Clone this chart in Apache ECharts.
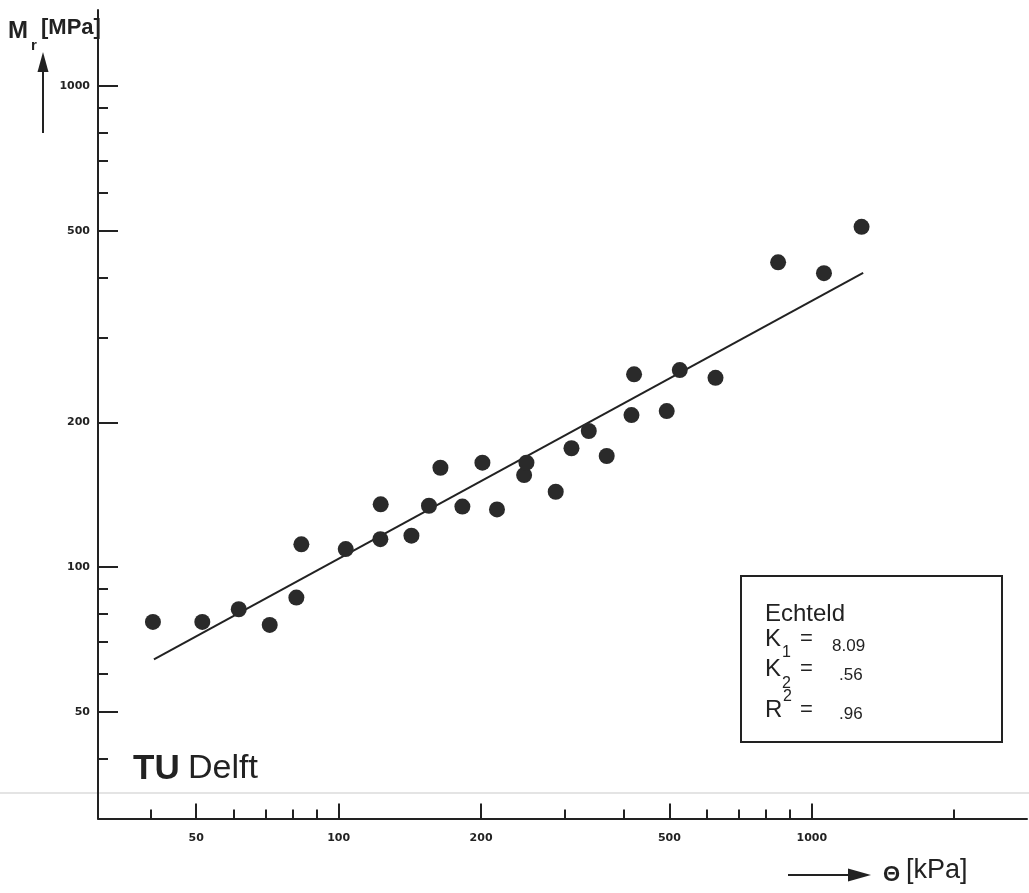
<!DOCTYPE html>
<html>
<head>
<meta charset="utf-8">
<script src="https://cdn.jsdelivr.net/npm/echarts@6/dist/echarts.min.js"></script>
<style>
  html, body { margin: 0; padding: 0; background: #fff; }
  #chart { width: 1029px; height: 893px; }
</style>
</head>
<body>
<div id="chart"></div>
<script>
// meetpunten Echteld: theta [kPa] en Mr [MPa]
var thetaVals = [40.5, 51.5, 61.5, 71.5, 81.4, 83.4, 103.5, 122.5, 122.7, 142.5,
                 155.2, 164.1, 182.6, 201.3, 216.1, 246.6, 249.4, 287.6, 310.5, 337.8,
                 368.6, 415.8, 421.1, 493.6, 526.0, 625.9, 848.8, 1061, 1274];
var mrVals = [76.9, 76.9, 81.7, 75.8, 86.4, 111.5, 109.0, 114.3, 135.0, 116.2,
              134.1, 160.9, 133.6, 164.8, 131.8, 155.3, 164.8, 143.4, 176.6, 191.8,
              170.2, 207.0, 251.6, 211.0, 256.8, 247.5, 430.1, 408.5, 510.0];

// regressielijn (begin- en eindpunt zoals getekend)
var fitTheta = [40.7, 1284];
var fitMr = [64.3, 409.2];

// tick labels
var xMajorTicks = [50, 100, 200, 500, 1000];
var xMinorTicks = [40, 60, 70, 80, 90, 300, 400, 600, 700, 800, 900, 2000];
var yMajorTicks = [50, 100, 200, 500, 1000];
var yMinorTicks = [40, 60, 70, 80, 90, 300, 400, 600, 700, 800, 900];

var ink = "#222";
var labelFont = {
  color: ink,
  fontFamily: "DejaVu Sans",
  fontWeight: "bold",
  fontSize: 11
};

function pairs(xs, ys) {
  return xs.map(function (x, i) { return [x, ys[i]]; });
}

var myChart = echarts.init(document.getElementById("chart"));
myChart.setOption({
  animation: false,
  backgroundColor: "#fff",
  grid: { left: 98, right: 2, top: 10, bottom: 74.5 },
  xAxis: [
    {
      type: "log",
      logBase: 10,
      position: "bottom",
      min: 31,
      max: 2850,
      axisLine: { show: true, lineStyle: { color: ink, width: 2 } },
      axisTick: {
        show: true, inside: true, length: 15,
        customValues: xMajorTicks,
        lineStyle: { color: ink, width: 2 }
      },
      axisLabel: Object.assign({
        show: true, margin: 14,
        customValues: xMajorTicks,
        formatter: function (v) { return String(Math.round(v)); }
      }, labelFont),
      splitLine: { show: false },
      minorTick: { show: false }
    },
    {
      type: "log",
      logBase: 10,
      position: "bottom",
      offset: 0,
      min: 31,
      max: 2850,
      axisLine: { show: false },
      axisTick: {
        show: true, inside: true, length: 9,
        customValues: xMinorTicks,
        lineStyle: { color: ink, width: 2 }
      },
      axisLabel: { show: false },
      splitLine: { show: false }
    }
  ],
  yAxis: [
    {
      type: "log",
      logBase: 10,
      position: "left",
      min: 30,
      max: 1440,
      axisLine: { show: true, lineStyle: { color: ink, width: 2 } },
      axisTick: {
        show: true, inside: true, length: 20,
        customValues: yMajorTicks,
        lineStyle: { color: ink, width: 2 }
      },
      axisLabel: Object.assign({
        show: true, margin: 8,
        customValues: yMajorTicks,
        formatter: function (v) { return String(Math.round(v)); }
      }, labelFont),
      splitLine: { show: false }
    },
    {
      type: "log",
      logBase: 10,
      position: "left",
      offset: 0,
      min: 30,
      max: 1440,
      axisLine: { show: false },
      axisTick: {
        show: true, inside: true, length: 10,
        customValues: yMinorTicks,
        lineStyle: { color: ink, width: 2 }
      },
      axisLabel: { show: false },
      splitLine: { show: false }
    }
  ],
  series: [
    {
      name: "fit",
      type: "line",
      xAxisIndex: 0,
      yAxisIndex: 0,
      data: pairs(fitTheta, fitMr),
      showSymbol: false,
      symbol: "none",
      lineStyle: { color: ink, width: 2 },
      z: 2
    },
    {
      name: "Echteld",
      type: "scatter",
      xAxisIndex: 0,
      yAxisIndex: 0,
      data: pairs(thetaVals, mrVals),
      symbol: "circle",
      symbolSize: 16,
      itemStyle: { color: "#2a2a2a", opacity: 1 },
      z: 3
    }
  ],
  graphic: [
    // vage scanlijn
    { type: "line", shape: { x1: 0, y1: 793, x2: 1029, y2: 793 },
      style: { stroke: "#e4e4e4", lineWidth: 2 }, z: 0 },

    // y-as naam  Mr [MPa]
    { type: "text", left: 8, top: 19,
      style: { text: "M", fill: ink, font: "bold 24px 'Liberation Sans'" } },
    { type: "text", left: 31, top: 38,
      style: { text: "r", fill: ink, font: "bold 15px 'Liberation Sans'" } },
    { type: "text", left: 41, top: 17,
      style: { text: "[MPa]", fill: ink, font: "bold 22px 'Liberation Sans'" } },
    { type: "line", shape: { x1: 43, y1: 133, x2: 43, y2: 62 },
      style: { stroke: ink, lineWidth: 2 } },
    { type: "polygon", shape: { points: [[43, 52], [37.5, 72], [48.5, 72]] },
      style: { fill: ink } },

    // x-as naam  Θ [kPa]
    { type: "line", shape: { x1: 788, y1: 875, x2: 852, y2: 875 },
      style: { stroke: ink, lineWidth: 2 } },
    { type: "polygon", shape: { points: [[871, 875], [848, 868.5], [848, 881.5]] },
      style: { fill: ink } },
    { type: "text", left: 883, top: 864,
      style: { text: "Θ", fill: ink, font: "bold 22px 'Liberation Sans'" } },
    { type: "text", left: 906, top: 857,
      style: { text: "[kPa]", fill: ink, font: "27px 'Liberation Sans'" } },

    // TU Delft
    { type: "text", left: 133, top: 752,
      style: { text: "TU", fill: ink, font: "bold 35px 'Liberation Sans'" } },
    { type: "text", left: 188, top: 752,
      style: { text: "Delft", fill: ink, font: "34px 'Liberation Sans'" } },

    // kader met resultaten
    { type: "rect", shape: { x: 741, y: 576, width: 261, height: 166 },
      style: { fill: "#fff", stroke: ink, lineWidth: 2 }, z: 10 },
    { type: "text", left: 765, top: 602, z: 11,
      style: { text: "Echteld", fill: ink, font: "24px 'Liberation Sans'" } },

    { type: "text", left: 765, top: 627, z: 11,
      style: { text: "K", fill: ink, font: "24px 'Liberation Sans'" } },
    { type: "text", left: 782, top: 645, z: 11,
      style: { text: "1", fill: ink, font: "16px 'Liberation Sans'" } },
    { type: "text", left: 800, top: 628, z: 11,
      style: { text: "=", fill: ink, font: "22px 'Liberation Sans'" } },
    { type: "text", left: 832, top: 638, z: 11,
      style: { text: "8.09", fill: ink, font: "17px 'Liberation Sans'" } },

    { type: "text", left: 765, top: 657, z: 11,
      style: { text: "K", fill: ink, font: "24px 'Liberation Sans'" } },
    { type: "text", left: 782, top: 676, z: 11,
      style: { text: "2", fill: ink, font: "16px 'Liberation Sans'" } },
    { type: "text", left: 800, top: 658, z: 11,
      style: { text: "=", fill: ink, font: "22px 'Liberation Sans'" } },
    { type: "text", left: 839, top: 667, z: 11,
      style: { text: ".56", fill: ink, font: "17px 'Liberation Sans'" } },

    { type: "text", left: 765, top: 698, z: 11,
      style: { text: "R", fill: ink, font: "24px 'Liberation Sans'" } },
    { type: "text", left: 783, top: 689, z: 11,
      style: { text: "2", fill: ink, font: "16px 'Liberation Sans'" } },
    { type: "text", left: 800, top: 699, z: 11,
      style: { text: "=", fill: ink, font: "22px 'Liberation Sans'" } },
    { type: "text", left: 839, top: 706, z: 11,
      style: { text: ".96", fill: ink, font: "17px 'Liberation Sans'" } }
  ]
});
</script>
</body>
</html>
